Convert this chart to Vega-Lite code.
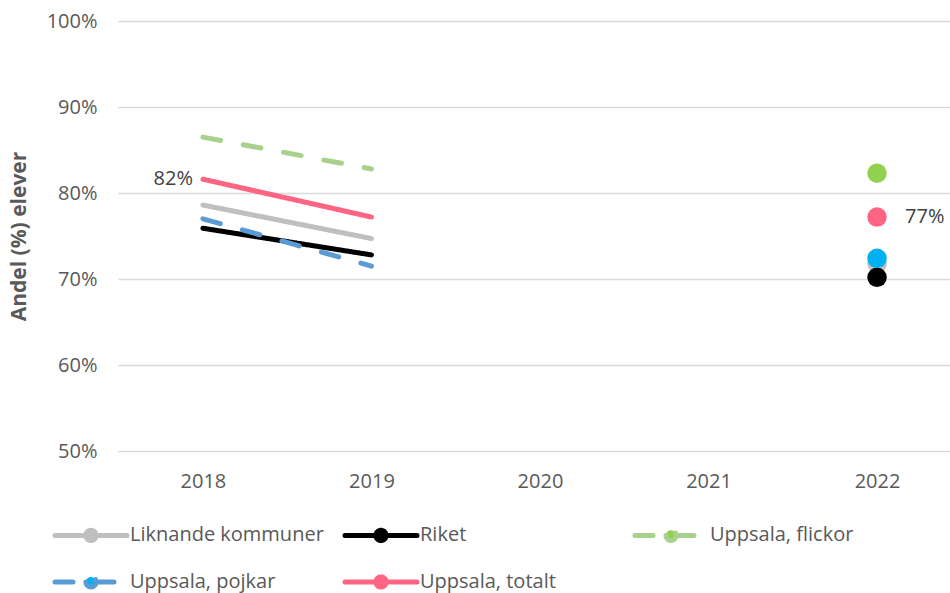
{
  "$schema": "https://vega.github.io/schema/vega-lite/v6.json",
  "width": 832,
  "height": 430,
  "autosize": {"type": "none"},
  "padding": {"left": 118, "top": 21, "right": 0, "bottom": 142},
  "background": "white",
  "config": {"view": {"stroke": null}, "font": "Open Sans"},
  "data": {
    "values": [
      {"series": "Liknande kommuner", "year": 2018, "value": 0.786},
      {"series": "Liknande kommuner", "year": 2019, "value": 0.747},
      {"series": "Liknande kommuner", "year": 2022, "value": 0.718},
      {"series": "Riket", "year": 2018, "value": 0.759},
      {"series": "Riket", "year": 2019, "value": 0.728},
      {"series": "Riket", "year": 2022, "value": 0.702},
      {"series": "Uppsala, flickor", "year": 2018, "value": 0.865},
      {"series": "Uppsala, flickor", "year": 2019, "value": 0.828},
      {"series": "Uppsala, flickor", "year": 2022, "value": 0.823},
      {"series": "Uppsala, pojkar", "year": 2018, "value": 0.770},
      {"series": "Uppsala, pojkar", "year": 2019, "value": 0.715},
      {"series": "Uppsala, pojkar", "year": 2022, "value": 0.724},
      {"series": "Uppsala, totalt", "year": 2018, "value": 0.816},
      {"series": "Uppsala, totalt", "year": 2019, "value": 0.772},
      {"series": "Uppsala, totalt", "year": 2022, "value": 0.772}
    ]
  },
  "encoding": {
    "x": {
      "field": "year", "type": "quantitative",
      "scale": {"domain": [2017.496, 2022.433], "nice": false, "zero": false},
      "axis": {
        "title": null, "values": [2018, 2019, 2020, 2021, 2022], "format": "d",
        "grid": false, "domain": false, "ticks": false, "labelFlush": false, "labelOverlap": false,
        "labelFont": "Open Sans", "labelFontSize": 20, "labelColor": "#595959", "labelPadding": 20
      }
    },
    "y": {
      "field": "value", "type": "quantitative",
      "scale": {"domain": [0.5, 1.0], "nice": false, "zero": false},
      "axis": {
        "title": "Andel (%) elever", "values": [0.5, 0.6, 0.7, 0.8, 0.9, 1.0], "format": ".0%",
        "grid": true, "gridColor": "#d9d9d9", "gridWidth": 1.5,
        "domain": false, "ticks": false,
        "labelFont": "Open Sans", "labelFontSize": 20, "labelColor": "#595959", "labelPadding": 21,
        "titleFont": "Open Sans", "titleFontSize": 21, "titleFontWeight": "bold", "titleColor": "#595959", "titlePadding": 17
      }
    }
  },
  "layer": [
    {
      "transform": [{"filter": "datum.year < 2020"}],
      "mark": {"type": "line", "strokeWidth": 5, "strokeCap": "round"},
      "encoding": {
        "stroke": {
          "field": "series", "type": "nominal",
          "scale": {
            "domain": ["Liknande kommuner", "Riket", "Uppsala, flickor", "Uppsala, pojkar", "Uppsala, totalt"],
            "range": ["#bfbfbf", "#000000", "#a9d18e", "#5b9bd5", "#ff6482"]
          },
          "legend": {
            "orient": "none", "legendX": -37, "legendY": 504, "direction": "horizontal", "columns": 3,
            "title": null,
            "symbolType": "M-6,0H6M-0.85,0A0.85,0.85 0 1,0 0.85,0A0.85,0.85 0 1,0 -0.85,0Z",
            "symbolSize": 144, "symbolStrokeWidth": 5,
            "labelFont": "Open Sans", "labelFontSize": 20, "labelColor": "#595959", "labelLimit": 400, "labelOffset": 29,
            "columnPadding": 11, "rowPadding": 15, "gridAlign": "all", "padding": 0,
            "encode": {
              "symbols": {
                "update": {
                  "fill": {"signal": "datum.value === 'Uppsala, flickor' ? '#92d050' : datum.value === 'Uppsala, pojkar' ? '#00b0f0' : datum.value === 'Riket' ? '#000000' : datum.value === 'Uppsala, totalt' ? '#ff6482' : '#bfbfbf'"},
                  "strokeDash": {"signal": "(datum.value === 'Uppsala, flickor' || datum.value === 'Uppsala, pojkar') ? [18, 36] : [1, 0]"},
                  "strokeCap": {"value": "round"},
                  "opacity": {"value": 1},
                  "fillOpacity": {"value": 1}
                }
              }
            }
          }
        },
        "strokeDash": {
          "field": "series", "type": "nominal",
          "scale": {
            "domain": ["Liknande kommuner", "Riket", "Uppsala, flickor", "Uppsala, pojkar", "Uppsala, totalt"],
            "range": [[1, 0], [1, 0], [18, 23], [18, 23], [1, 0]]
          },
          "legend": null
        }
      }
    },
    {
      "transform": [{"filter": "datum.year == 2022"}],
      "mark": {"type": "point", "shape": "circle", "filled": true, "size": 380, "opacity": 1},
      "encoding": {
        "fill": {
          "field": "series", "type": "nominal",
          "scale": {
            "domain": ["Liknande kommuner", "Riket", "Uppsala, flickor", "Uppsala, pojkar", "Uppsala, totalt"],
            "range": ["#bfbfbf", "#000000", "#92d050", "#00b0f0", "#ff6482"]
          },
          "legend": null
        }
      }
    },
    {
      "transform": [{"filter": "datum.year == 2018 && datum.series == 'Uppsala, totalt'"}],
      "mark": {"type": "text", "align": "right", "baseline": "middle", "dx": -10, "font": "Open Sans", "fontSize": 20, "color": "#404040"},
      "encoding": {"text": {"field": "value", "format": ".0%"}}
    },
    {
      "transform": [{"filter": "datum.year == 2022 && datum.series == 'Uppsala, totalt'"}],
      "mark": {"type": "text", "align": "left", "baseline": "middle", "dx": 28, "font": "Open Sans", "fontSize": 20, "color": "#404040"},
      "encoding": {"text": {"field": "value", "format": ".0%"}}
    }
  ]
}
